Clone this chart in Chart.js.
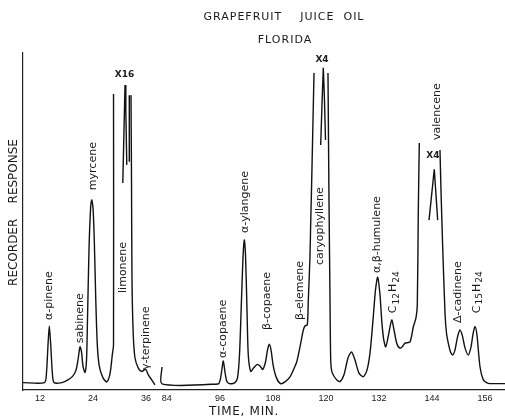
<!DOCTYPE html>
<html>
<head>
<meta charset="utf-8">
<script src="https://cdn.jsdelivr.net/npm/chart.js@4"></script>
<style>
html,body{margin:0;padding:0;background:#fff;}
#c{display:block;}
</style>
</head>
<body>
<canvas id="c" width="505" height="419"></canvas>
<script>
// ---- data (time in min, response in arbitrary recorder units) ----
const traceTime = [8.15,13.01,13.47,13.81,14.1,14.42,14.78,15.16,16.97,18.33,19.46,20.14,20.59,21.05,21.39,21.72,22.18,22.52,22.74,23.08,23.42,23.69,23.99,24.28,24.6,24.96,25.41,26.25,27.09,27.83,28.35,28.63,28.63,30.5,32.58,32.7,32.81,33.1,33.49,34.24,35.0,35.53,35.91,36.5,37.27,38.01,60,
  82.9,82.9,95.57,96.02,96.43,96.77,97.15,97.54,98.12,99.41,99.98,100.43,100.88,101.22,101.52,101.79,102.13,102.42,102.97,103.6,104.46,105.07,105.68,106.31,106.77,107.17,107.56,108.08,108.8,109.71,110.73,111.86,112.6,113.37,114.12,114.87,115.25,115.77,116.0,116.38,116.54,116.72,117.29,118.9,
  120.45,120.68,120.91,121.07,121.36,122.42,123.17,124.07,124.98,125.77,126.56,127.47,128.44,129.28,129.96,130.64,131.2,131.7,132.22,132.6,133.01,133.51,134.14,134.87,135.39,136.0,136.74,137.42,137.88,139.01,139.75,140.36,140.66,140.88,141.11,143.5,
  145.79,146.02,146.4,146.93,147.26,147.67,148.17,148.67,149.19,149.75,150.32,150.88,151.45,152.2,152.81,153.26,153.71,154.16,154.84,155.59,156.43,157.11,160.5];
const traceResp = [2.2,2.2,5.3,13.4,19.0,13.4,5.3,2.2,2.2,3.0,4.2,5.9,8.9,12.8,11.3,7.1,5.2,8.9,20.8,41.5,53.4,56.4,54.0,44.5,27.6,13.4,7.1,3.6,2.4,4.8,10.4,13.4,87.8,null,87.5,62.3,32.6,16.3,9.5,6.5,5.5,5.9,6.2,4.5,3.0,1.5,null,
  6.8,1.8,1.8,2.7,5.9,8.6,5.3,2.7,1.9,2.2,3.6,10.4,26.7,39.2,44.5,40.1,23.7,10.4,5.5,6.5,7.6,7.1,6.1,8.3,11.9,13.6,11.9,7.1,3.6,1.9,2.4,3.9,5.9,8.3,12.8,17.8,19.0,19.3,26.7,39.6,49.6,59.3,94.1,null,
  94.1,56.4,26.7,8.9,5.3,3.0,2.5,4.5,9.5,11.3,8.9,5.0,3.9,5.9,11.0,20.8,29.7,33.5,28.2,20.8,15.4,12.8,16.3,20.8,17.8,13.9,12.4,13.1,13.9,14.3,18.7,21.4,25.2,52.5,73.3,null,
  71.2,59.3,42.5,22.8,16.9,13.9,11.3,10.4,11.9,15.7,17.8,16.0,12.5,10.4,12.8,16.6,18.8,16.3,6.9,3.0,2.1,1.9,1.9];
// attenuated (X16 / X4) re-recordings
const limoneneX16Time = [30.73,31.05,31.23,31.41,31.63,31.9,32.2,32.2];
const limoneneX16Resp = [61.4,80.1,90.5,83.1,66.8,null,87.5,67.7];
const caryX4Time = [118.8,119.1,119.39,119.66,119.89];
const caryX4Resp = [72.7,84.9,95.6,86.1,74.2];
const valenceneX4Time = [143.31,144.5,145.27];
const valenceneX4Resp = [50.4,65.5,50.4];
// axis ticks (minutes); the time axis is broken between 36 and 84 min
const tickMinutes = [12,24,36,84,96,108,120,132,144,156];
const BREAK_AT = 60, BREAK_SHIFT = 43.3;
// peak labels
const peakNames = ['α-pinene','sabinene','myrcene','limonene','γ-terpinene','α-copaene','α-ylangene','β-copaene','β-elemene','caryophyllene','α,β-humulene','C12H24','valencene','Δ-cadinene','C15H24'];
const peakTimes = [14.1,21.05,24.0,30.8,35.98,96.77,101.6,106.7,114.1,118.6,131.5,135.2,145.1,149.9,154.2];
// label placement (response units where the rotated label begins)
const labelStart = [20.8,13.9,59.3,28.8,5.9,9.5,46.6,17.8,20.8,37.1,34.7,22.8,74.2,19.9,22.8];
const attenNames = ['X16','X4','X4'];
const attenTimes = [31.1,119.1,144.2];
const attenResp = [93.5,97.9,69.4];

const u = t => (t < BREAK_AT ? t : t - BREAK_SHIFT);
const pts = (T, R) => T.map((t, i) => ({x: u(t), y: R[i]}));

const annot = {
  id: 'annot',
  afterDraw(chart) {
    const ctx = chart.ctx, xs = chart.scales.x, ys = chart.scales.y;
    ctx.save();
    ctx.fillStyle = '#1a1a1a';
    // titles
    ctx.textAlign = 'center'; ctx.textBaseline = 'middle';
    ctx.font = '11px "DejaVu Sans"';
    ctx.letterSpacing = '1px';
    ctx.fillText('GRAPEFRUIT    JUICE  OIL', 284, 17.5);
    ctx.fillText('FLORIDA', 285, 40);
    // axis titles
    ctx.font = '12px "DejaVu Sans"';
    ctx.letterSpacing = '0.7px';
    ctx.fillText('TIME, MIN.', 244, 412);
    ctx.letterSpacing = '0px';
    ctx.save();
    ctx.translate(13.5, 212.5); ctx.rotate(-Math.PI / 2);
    ctx.fillText('RECORDER    RESPONSE', 0, 0);
    ctx.restore();
    // peak labels (rotated, reading upward)
    ctx.font = '11px "DejaVu Sans"';
    peakNames.forEach((name, i) => {
      const px = xs.getPixelForValue(u(peakTimes[i]));
      const py = ys.getPixelForValue(labelStart[i]);
      ctx.save();
      ctx.translate(px, py); ctx.rotate(-Math.PI / 2);
      ctx.textAlign = 'left'; ctx.textBaseline = 'middle';
      const m = name.match(/^C(\d+)H(\d+)$/);
      if (m) {
        let x = 0;
        const big = '11px "DejaVu Sans"', small = '9px "DejaVu Sans"';
        const parts = [['C', big, 0], [m[1], small, 3], ['H', big, 0], [m[2], small, 3]];
        parts.forEach(([s, f, dy]) => { ctx.font = f; ctx.fillText(s, x, dy); x += ctx.measureText(s).width + 1; });
        ctx.font = big;
      } else {
        ctx.fillText(name, 0, 0);
      }
      ctx.restore();
    });
    // attenuation marks
    ctx.font = 'bold 9px "DejaVu Sans"';
    ctx.textAlign = 'center'; ctx.textBaseline = 'middle';
    attenNames.forEach((n, i) => {
      ctx.fillText(n, xs.getPixelForValue(u(attenTimes[i])), ys.getPixelForValue(attenResp[i]));
    });
    ctx.restore();
  }
};

const lineStyle = {borderColor: '#111', borderWidth: 1.4, pointRadius: 0, tension: 0.25, spanGaps: false, fill: false};

new Chart(document.getElementById('c'), {
  type: 'line',
  data: {
    datasets: [
      Object.assign({label: 'trace', data: pts(traceTime, traceResp)}, lineStyle),
      Object.assign({label: 'limonene X16', data: pts(limoneneX16Time, limoneneX16Resp)}, lineStyle, {tension: 0}),
      Object.assign({label: 'caryophyllene X4', data: pts(caryX4Time, caryX4Resp)}, lineStyle, {tension: 0}),
      Object.assign({label: 'valencene X4', data: pts(valenceneX4Time, valenceneX4Resp)}, lineStyle, {tension: 0})
    ]
  },
  options: {
    responsive: false,
    animation: false,
    layout: {padding: {top: 53, left: 0, right: 0, bottom: 0}},
    plugins: {legend: {display: false}, tooltip: {enabled: false}, title: {display: false}},
    scales: {
      x: {
        type: 'linear',
        min: 8.15, max: 117.2,
        grid: {display: false, drawTicks: false, tickLength: 0},
        border: {display: true, color: '#222', width: 1.2},
        afterBuildTicks: s => { s.ticks = tickMinutes.map(m => ({value: u(m)})); },
        afterFit: s => { s.height = 29; },
        ticks: {
          autoSkip: false, maxRotation: 0, padding: 3,
          color: '#1a1a1a',
          font: {family: '"Liberation Sans"', size: 9},
          callback: (v, i) => String(tickMinutes[i])
        }
      },
      y: {
        type: 'linear',
        min: 0, max: 100,
        grid: {display: false, drawTicks: false, tickLength: 0},
        border: {display: true, color: '#222', width: 1.2},
        ticks: {display: false},
        afterFit: s => { s.width = 23; }
      }
    }
  },
  plugins: [annot]
});
</script>
</body>
</html>
